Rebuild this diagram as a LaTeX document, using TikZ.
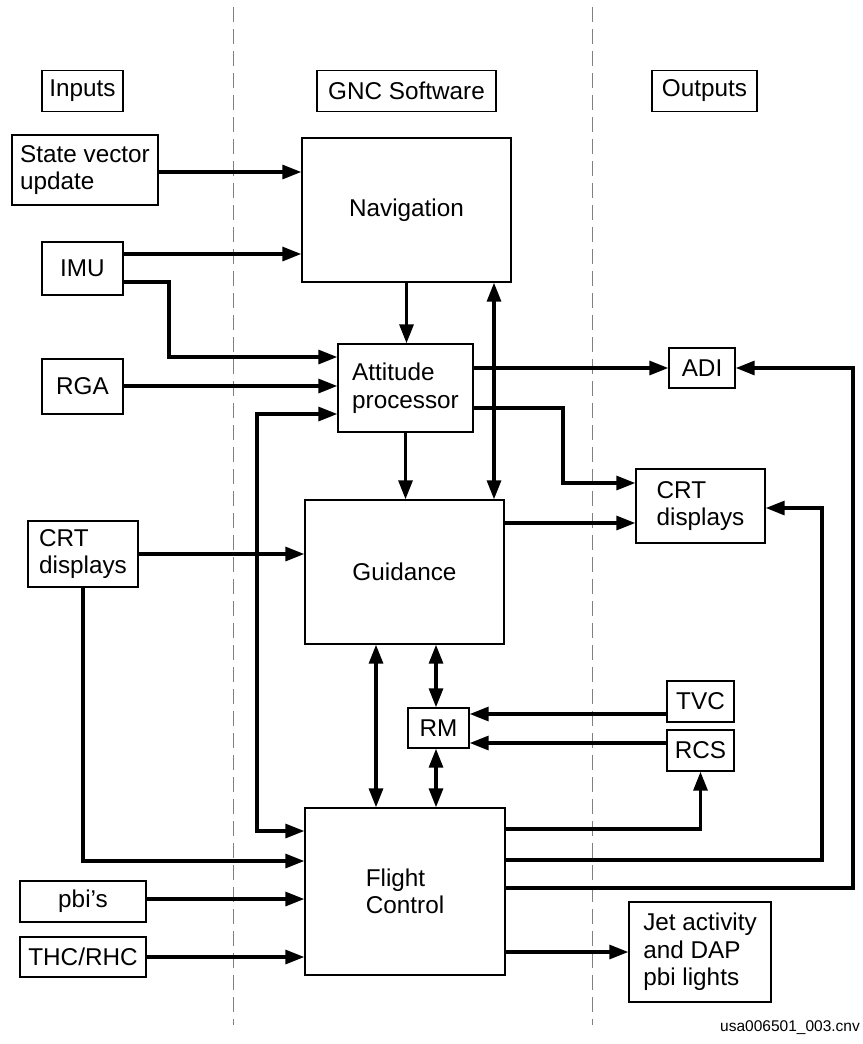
\documentclass[tikz,border=0pt]{standalone}
\usepackage{fontspec}
\setmainfont{Liberation Sans}
\usetikzlibrary{calc,arrows.meta}

\begin{document}
\begin{tikzpicture}[x=1pt,y=-1pt,
    >={Triangle[length=19pt,width=14pt]},
    blk/.style={draw,line width=1.4pt,inner sep=0pt,align=left,
        font=\fontsize{24.3}{27.5}\selectfont},
    lnk/.style={line width=3.2pt},
    sep/.style={draw=gray,line width=1pt,dash pattern=on 15pt off 7pt}]
    \useasboundingbox (0,0) rectangle (862,1044);

    % column separators
    \draw[sep] (233,7) -- (233,1025);
    \draw[sep] (592,7) -- (592,1025);

    % column titles
    \node[blk,minimum width=81,minimum height=41] (inp) at (82.5,91) {Inputs};
    \node[blk,minimum width=179,minimum height=41] (gnc) at (406.5,91) {GNC Software};
    \node[blk,minimum width=105,minimum height=41] (outp) at (704.5,91) {Outputs};

    % inputs
    \node[blk,minimum width=146,minimum height=70] (sv) at (85,170) {State vector\\update};
    \node[blk,minimum width=81,minimum height=53] (imu) at (82.5,268.5) {IMU};
    \node[blk,minimum width=81,minimum height=55] (rga) at (82.5,386.5) {RGA};
    \node[blk,minimum width=110,minimum height=66] (crtl) at (83,554) {CRT\\displays};
    \node[blk,minimum width=126,minimum height=41] (pbi) at (83,901.5) {pbi’s};
    \node[blk,minimum width=126,minimum height=40] (thc) at (83,957) {THC/RHC};

    % GNC software
    \node[blk,minimum width=209,minimum height=144] (nav) at (406.5,210) {Navigation};
    \node[blk,minimum width=135,minimum height=88] (att) at (405.5,388) {Attitude\\processor};
    \node[blk,minimum width=199,minimum height=144] (guid) at (404.5,572) {Guidance};
    \node[blk,minimum width=61,minimum height=40] (rm) at (438.5,728) {RM};
    \node[blk,minimum width=200,minimum height=167] (fc) at (405,891.5) {Flight\\Control};

    % outputs
    \node[blk,minimum width=66,minimum height=40] (adi) at (702,368) {ADI};
    \node[blk,minimum width=129,minimum height=74] (crtr) at (700.5,506) {CRT\\displays};
    \node[blk,minimum width=67,minimum height=41] (tvc) at (700.5,701.5) {TVC};
    \node[blk,minimum width=67,minimum height=41] (rcs) at (700.5,750.5) {RCS};
    \node[blk,minimum width=142,minimum height=100] (jet) at (700,952) {Jet activity\\and DAP\\pbi lights};

    % inputs to GNC
    \draw[lnk,->] (sv.east |- 0,172) -- (nav.west |- 0,172);
    \draw[lnk,->] (imu.east |- 0,254) -- (nav.west |- 0,254);
    \draw[lnk,->] (imu.east |- 0,282) -- (169,282) -- (169,357) -- (att.west |- 0,357);
    \draw[lnk,->] (rga.east |- 0,386) -- (att.west |- 0,386);
    \draw[lnk,->] (crtl.east |- 0,554) -- (guid.west |- 0,554);
    \draw[lnk,->] (crtl.south) -- (crtl.south |- 0,861) -- (fc.west |- 0,861);
    \draw[lnk,->] (pbi.east |- 0,899) -- (fc.west |- 0,899);
    \draw[lnk,->] (thc.east |- 0,957) -- (fc.west |- 0,957);

    % inside GNC
    \draw[lnk,->] (nav.south |- 0,282) -- (nav.south |- att.north);
    \draw[lnk,->] (att.south |- 0,432) -- (att.south |- guid.north);
    \draw[lnk,<->] (guid.north -| 494,0) -- (nav.south -| 494,0);
    \draw[lnk,<->] (att.west |- 0,414) -- (257,414) -- (257,831) -- (fc.west |- 0,831);
    \draw[lnk,<->] (guid.south -| 376,0) -- (fc.north -| 376,0);
    \draw[lnk,<->] (guid.south -| 436,0) -- (rm.north -| 436,0);
    \draw[lnk,<->] (rm.south -| 436,0) -- (fc.north -| 436,0);

    % GNC to outputs
    \draw[lnk,->] (att.east |- 0,368) -- (adi.west |- 0,368);
    \draw[lnk,->] (att.east |- 0,408) -- (563,408) -- (563,483) -- (crtr.west |- 0,483);
    \draw[lnk,->] (guid.east |- 0,523) -- (crtr.west |- 0,523);
    \draw[lnk,->] (tvc.west |- 0,714) -- (rm.east |- 0,714);
    \draw[lnk,->] (rcs.west |- 0,743) -- (rm.east |- 0,743);
    \draw[lnk,->] (fc.east |- 0,829) -- (rcs.south |- 0,829) -- (rcs.south);
    \draw[lnk,->] (fc.east |- 0,860) -- (822,860) -- (822,508) -- (crtr.east |- 0,508);
    \draw[lnk,->] (fc.east |- 0,888) -- (853,888) -- (853,368) -- (adi.east |- 0,368);
    \draw[lnk,->] (fc.east |- 0,952) -- (jet.west |- 0,952);

    \node[anchor=base west,inner sep=0pt,font=\fontsize{15.5}{18}\selectfont] (fname) at (720,1031) {usa006501\_003.cnv};
\end{tikzpicture}
\end{document}
